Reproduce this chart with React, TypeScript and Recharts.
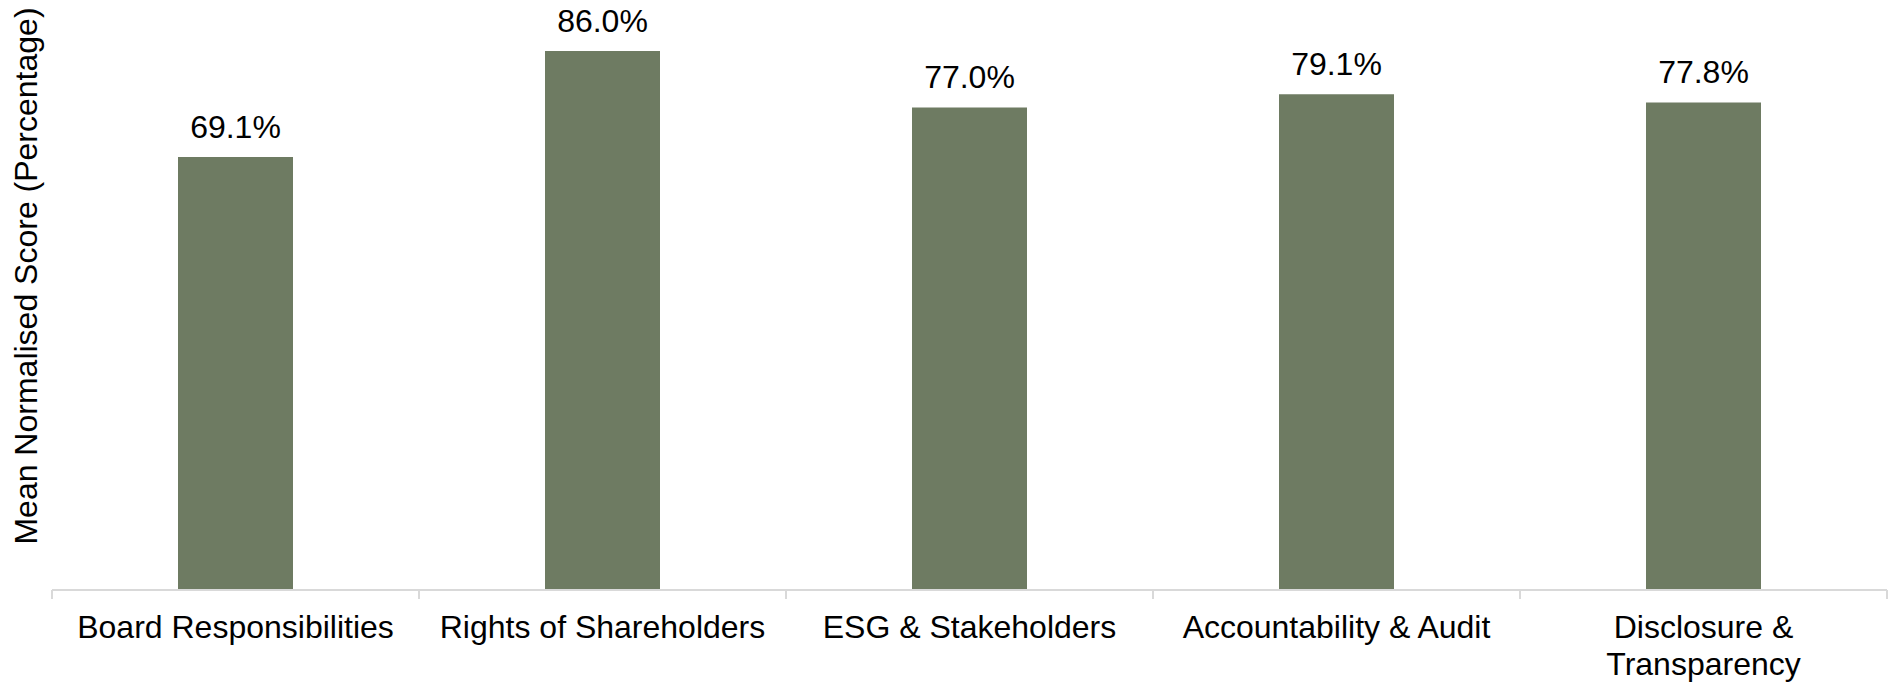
import { useEffect } from 'react'
import { BarChart, Bar, XAxis, YAxis, LabelList } from 'recharts'

// categories, tick text lines and series values
const categories = [
  'Board Responsibilities',
  'Rights of Shareholders',
  'ESG & Stakeholders',
  'Accountability & Audit',
  'Disclosure & Transparency',
]
const tickLines: string[][] = [
  ['Board Responsibilities'],
  ['Rights of Shareholders'],
  ['ESG & Stakeholders'],
  ['Accountability & Audit'],
  ['Disclosure &', 'Transparency'],
]
const meanScores = [69.1, 86.0, 77.0, 79.1, 77.8]

const data = categories.map((name, i) => ({ name, score: meanScores[i] }))

const CHART_W = 1891
const CHART_H = 682
const MARGIN = { top: 26, right: 4, left: 0, bottom: 0 }
const Y_AXIS_W = 52
const X_AXIS_H = 92
const FONT = '"Liberation Sans", Arial, sans-serif'
const AXIS_GREY = '#d9d9d9'
const BAR_COLOUR = '#6e7b62'

const BAND = (CHART_W - MARGIN.left - MARGIN.right - Y_AXIS_W) / categories.length

function CategoryTick(props: any) {
  const { x, y, payload, index } = props
  const lines = tickLines[index] ?? [String(payload.value)]
  const isLast = index === categories.length - 1
  return (
    <g>
      {/* Excel-style tick marks sit between categories */}
      <line x1={x - BAND / 2} x2={x - BAND / 2} y1={y} y2={y + 9} stroke={AXIS_GREY} strokeWidth={2} />
      {isLast && (
        <line x1={x + BAND / 2} x2={x + BAND / 2} y1={y} y2={y + 9} stroke={AXIS_GREY} strokeWidth={2} />
      )}
      <text x={x} y={y} textAnchor="middle" fill="#000" fontSize={32} fontFamily={FONT}>
        {lines.map((line, i) => (
          <tspan key={i} x={x} y={y + 48 + i * 37}>
            {line}
          </tspan>
        ))}
      </text>
    </g>
  )
}

function YTitle() {
  return (
    <text
      x={37}
      y={276}
      transform="rotate(-90, 37, 276)"
      textAnchor="middle"
      fill="#000"
      fontSize={32}
      fontFamily={FONT}
    >
      Mean Normalised Score (Percentage)
    </text>
  )
}

export default function App() {
  useEffect(() => {
    document.body.style.margin = '0'
  }, [])

  return (
    <div style={{ width: CHART_W, height: CHART_H, background: '#fff', fontFamily: FONT }}>
      <BarChart width={CHART_W} height={CHART_H} data={data} margin={MARGIN}>
        <XAxis
          dataKey="name"
          height={X_AXIS_H}
          interval={0}
          tickSize={0}
          tickMargin={0}
          tickLine={false}
          axisLine={{ stroke: AXIS_GREY, strokeWidth: 2 }}
          tick={<CategoryTick />}
        />
        <YAxis
          width={Y_AXIS_W}
          domain={[0, 90]}
          tick={false}
          tickLine={false}
          axisLine={false}
          label={{ content: () => <YTitle /> }}
        />
        <Bar dataKey="score" fill={BAR_COLOUR} barSize={115} isAnimationActive={false}>
          <LabelList
            dataKey="score"
            position="top"
            offset={19}
            formatter={(v: any) => `${Number(v).toFixed(1)}%`}
            fill="#000"
            fontSize={32}
            fontFamily={FONT}
          />
        </Bar>
      </BarChart>
    </div>
  )
}
